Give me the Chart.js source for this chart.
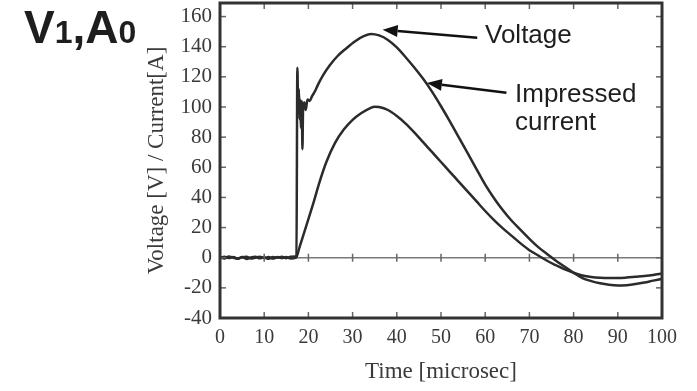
<!DOCTYPE html>
<html>
<head>
<meta charset="utf-8">
<script src="https://cdn.jsdelivr.net/npm/chart.js@4.4.1/dist/chart.umd.min.js"></script>
<style>
  body { margin: 0; background: #fff; }
  #wrap { position: relative; width: 697px; height: 391px; }
  .note { position: absolute; font-family: "Liberation Sans", Arial, sans-serif; color: #1e1e1e; white-space: nowrap; }
  #tag { left: 24px; top: 4px; font-size: 46px; line-height: 46px; font-weight: bold; }
  #tag span { font-size: 32px; }
  #lblVolt { left: 485px; top: 21px; font-size: 26px; line-height: 26px; }
  #lblCurr { left: 515px; top: 79px; font-size: 26px; line-height: 28px; }
</style>
</head>
<body>
<div id="wrap">
  <canvas id="chart" width="697" height="391"></canvas>
  <div class="note" id="tag">V<span>1</span>,A<span>0</span></div>
  <div class="note" id="lblVolt">Voltage</div>
  <div class="note" id="lblCurr">Impressed<br>current</div>
</div>
<script>
// time axis [microsec] and traces
const voltTime = [0, 1, 2, 3, 4, 5, 6, 7, 8, 9, 10, 11, 12, 13, 14, 15, 16, 17,
  17.3, 17.5, 17.7, 17.85, 18.0, 18.15, 18.3, 18.5, 18.65, 18.8,
  19.1, 19.4, 19.8, 20.3, 20.8, 21.4, 22.2, 23.3, 24.8, 26.5, 28.6, 30.5, 32.5, 34.2,
  36, 38, 40, 42, 44, 46, 48, 50, 52, 54, 56, 58, 60, 62, 64, 66, 68, 70,
  72, 74, 76, 78, 80, 82, 84, 86, 88, 90, 92, 94, 96, 98, 100];
const voltValues = [0.5, -0.5, 0.8, 0, -0.6, 0.4, -0.8, 0.2, 0.6, -0.4, 0.3, -0.7, 0.5, 0, 0.7, -0.3, 0.6, 0.8,
  1, 126, 100, 112, 92, 105, 86, 104, 72, 100,
  103, 98, 105, 104, 107, 110, 115, 121, 127.5, 133.5, 139, 143.5, 147, 148.5,
  147.5, 144.5, 139.5, 133, 126, 118.5, 110, 100.5, 90.5, 80, 69.5, 59, 48.5, 39.5, 31.5, 24.5, 18.5, 12.5,
  7, 2.5, -2, -6, -10, -13.5, -15.5, -17, -18, -18.5, -18.2, -17.5, -16.5, -15.2, -14];

const currTime = [0, 1, 2, 3, 4, 5, 6, 7, 8, 9, 10, 11, 12, 13, 14, 15, 16,
  17.2, 18, 19.5, 21, 22.5, 24, 26, 28, 30, 32, 34, 35, 36,
  38, 40, 42, 44, 46, 48, 50, 52, 54, 56, 58, 60, 62, 64, 66, 68, 70,
  72, 74, 76, 78, 80, 82, 84, 86, 88, 90, 92, 94, 96, 98, 100];
const currValues = [-0.4, 0.6, -0.2, 0.5, -0.7, 0.3, 0.7, -0.5, 0, 0.6, -0.3, 0.4, -0.6, 0.5, -0.2, 0.4, -0.5,
  0, 7, 21, 35, 50, 63, 76, 85, 91.5, 96, 99.3, 100.2, 100,
  98, 94, 89, 83, 76.5, 70, 63.5, 57, 50.5, 44, 37.5, 31, 25, 19.5, 14.5, 9.5, 5,
  1.5, -2, -5, -7.8, -10, -11.8, -12.8, -13.3, -13.5, -13.5, -13.2, -12.7, -12.2, -11.5, -10.5];

const xTickValues = [0, 10, 20, 30, 40, 50, 60, 70, 80, 90, 100];
const yTickValues = [-40, -20, 0, 20, 40, 60, 80, 100, 120, 140, 160];

const toPoints = (ts, vs) => ts.map((t, i) => ({ x: t, y: vs[i] }));

// inward ticks, frame and the two label arrows
const framePlugin = {
  id: 'frame',
  afterDatasetsDraw(chart) {
    const { ctx, chartArea: a, scales: { x, y } } = chart;
    const seg = (x1, y1, x2, y2) => { ctx.beginPath(); ctx.moveTo(x1, y1); ctx.lineTo(x2, y2); ctx.stroke(); };
    ctx.save();
    ctx.strokeStyle = '#666';
    ctx.lineWidth = 1.5;
    const y0 = y.getPixelForValue(0);
    xTickValues.forEach(v => {
      const px = x.getPixelForValue(v);
      seg(px, a.top, px, a.top + 6);
      seg(px, a.bottom, px, a.bottom - 6);
      seg(px, y0 - 4, px, y0 + 4);
    });
    yTickValues.forEach(v => {
      const py = y.getPixelForValue(v);
      seg(a.left, py, a.left + 6, py);
      seg(a.right, py, a.right - 6, py);
    });
    ctx.strokeStyle = '#333';
    ctx.lineWidth = 3;
    ctx.strokeRect(a.left, a.top, a.right - a.left, a.bottom - a.top);

    const arrows = chart.options.plugins.frame.arrows;
    ctx.strokeStyle = '#111';
    ctx.fillStyle = '#111';
    ctx.lineWidth = 2.5;
    arrows.forEach(ar => {
      const x1 = x.getPixelForValue(ar.from[0]), y1 = y.getPixelForValue(ar.from[1]);
      const x2 = x.getPixelForValue(ar.to[0]), y2 = y.getPixelForValue(ar.to[1]);
      const ang = Math.atan2(y2 - y1, x2 - x1);
      const hl = 15, hw = 6;
      const bx = x2 - hl * Math.cos(ang), by = y2 - hl * Math.sin(ang);
      seg(x1, y1, bx, by);
      ctx.beginPath();
      ctx.moveTo(x2, y2);
      ctx.lineTo(bx + hw * Math.sin(ang), by - hw * Math.cos(ang));
      ctx.lineTo(bx - hw * Math.sin(ang), by + hw * Math.cos(ang));
      ctx.closePath();
      ctx.fill();
    });
    ctx.restore();
  }
};

const serif = '"Liberation Serif", "Times New Roman", serif';

new Chart(document.getElementById('chart'), {
  type: 'line',
  data: {
    datasets: [
      {
        label: 'Voltage',
        data: toPoints(voltTime, voltValues),
        borderColor: '#2b2b2b',
        borderWidth: 2.5,
        pointRadius: 0,
        cubicInterpolationMode: 'monotone',
      },
      {
        label: 'Impressed current',
        data: toPoints(currTime, currValues),
        borderColor: '#2b2b2b',
        borderWidth: 2.5,
        pointRadius: 0,
        cubicInterpolationMode: 'monotone',
      },
    ],
  },
  options: {
    responsive: false,
    animation: false,
    layout: { padding: { top: 3, right: 35, left: 0, bottom: 0 } },
    plugins: {
      legend: { display: false },
      tooltip: { enabled: false },
      frame: {
        arrows: [
          { from: [58.2, 146], to: [36.8, 151.3] },
          { from: [64.8, 109.5], to: [46.8, 115.9] },
        ],
      },
    },
    scales: {
      x: {
        type: 'linear',
        min: 0,
        max: 100,
        afterBuildTicks: s => { s.ticks = xTickValues.map(v => ({ value: v })); },
        afterFit: s => { s.height = 73; s.paddingLeft = 0; s.paddingRight = 0; },
        grid: { display: false, drawTicks: false },
        border: { display: false },
        ticks: { padding: 8, color: '#3a3a3a', font: { family: serif, size: 20 } },
        title: {
          display: true,
          text: 'Time [microsec]',
          color: '#3a3a3a',
          font: { family: serif, size: 23 },
          padding: { top: 0, bottom: 5 },
        },
      },
      y: {
        min: -40,
        max: 169,
        afterBuildTicks: s => { s.ticks = yTickValues.map(v => ({ value: v })); },
        afterFit: s => { s.width = 220; s.paddingTop = 0; s.paddingBottom = 0; },
        grid: {
          drawTicks: false,
          lineWidth: 1.5,
          color: c => (c.tick && c.tick.value === 0 ? '#7a7a7a' : 'rgba(0,0,0,0)'),
        },
        border: { display: false },
        ticks: { padding: 8, color: '#3a3a3a', font: { family: serif, size: 21 } },
        title: {
          display: true,
          text: 'Voltage [V] / Current[A]',
          color: '#3a3a3a',
          font: { family: serif, size: 23 },
          padding: { top: 143, bottom: 0 },
        },
      },
    },
  },
  plugins: [framePlugin],
});
</script>
</body>
</html>
